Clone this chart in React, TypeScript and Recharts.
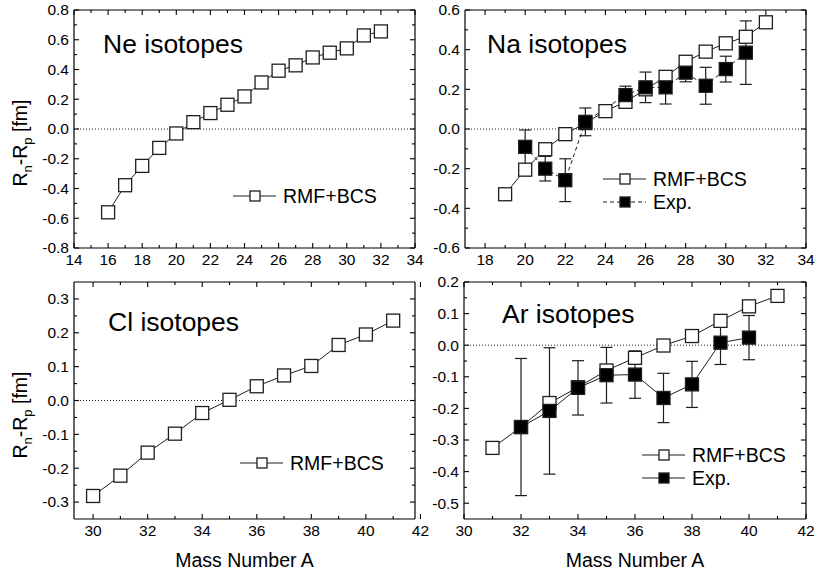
import React from 'react';
import { LineChart, Line, XAxis, YAxis, ErrorBar, ReferenceLine } from 'recharts';

const FONT = '"Liberation Sans", Arial, Helvetica, sans-serif';
const INK = '#1e1e1e';
const FRAME = '#000';

// Ne isotopes
const neMass = [16, 17, 18, 19, 20, 21, 22, 23, 24, 25, 26, 27, 28, 29, 30, 31, 32];
const neRmf = [-0.56, -0.378, -0.248, -0.127, -0.03, 0.046, 0.107, 0.163, 0.219, 0.313, 0.392, 0.428, 0.481, 0.513, 0.542, 0.629, 0.656];

// Na isotopes
const naMass = [19, 20, 21, 22, 23, 24, 25, 26, 27, 28, 29, 30, 31, 32];
const naRmf = [-0.329, -0.205, -0.102, -0.026, 0.03, 0.09, 0.137, 0.2, 0.263, 0.339, 0.39, 0.432, 0.465, 0.538];
const naExpMass = [20, 21, 22, 23, 25, 26, 27, 28, 29, 30, 31];
const naExp = [-0.09, -0.2, -0.258, 0.036, 0.171, 0.21, 0.21, 0.284, 0.218, 0.302, 0.385];
const naExpErr = [0.085, 0.062, 0.108, 0.07, 0.045, 0.077, 0.084, 0.046, 0.093, 0.065, 0.16];

// Cl isotopes
const clMass = [30, 31, 32, 33, 34, 35, 36, 37, 38, 39, 40, 41];
const clRmf = [-0.282, -0.222, -0.154, -0.098, -0.037, 0.002, 0.042, 0.074, 0.102, 0.164, 0.195, 0.236];

// Ar isotopes
const arMass = [31, 32, 33, 34, 35, 36, 37, 38, 39, 40, 41];
const arRmf = [-0.325, -0.259, -0.183, -0.133, -0.08, -0.04, -0.001, 0.029, 0.077, 0.123, 0.156];
const arExpMass = [32, 33, 34, 35, 36, 37, 38, 39, 40];
const arExp = [-0.259, -0.208, -0.135, -0.095, -0.093, -0.167, -0.124, 0.008, 0.024];
const arExpErr = [0.217, 0.2, 0.086, 0.088, 0.075, 0.078, 0.073, 0.069, 0.07];

// labelled (major) ticks per panel
const neXMajor = [14, 16, 18, 20, 22, 24, 26, 28, 30, 32, 34];
const neYMajor = [-0.8, -0.6, -0.4, -0.2, 0, 0.2, 0.4, 0.6, 0.8];
const naXMajor = [18, 20, 22, 24, 26, 28, 30, 32, 34];
const naYMajor = [-0.6, -0.4, -0.2, 0, 0.2, 0.4, 0.6];
const clXMajor = [30, 32, 34, 36, 38, 40, 42];
const clYMajor = [-0.3, -0.2, -0.1, 0, 0.1, 0.2, 0.3];
const arXMajor = [30, 32, 34, 36, 38, 40, 42];
const arYMajor = [-0.5, -0.4, -0.3, -0.2, -0.1, 0, 0.1, 0.2];

type Row = { a: number; v: number; e: number };
const rows = (mass: number[], v: number[], e?: number[]): Row[] =>
  mass.map((a, i) => ({ a, v: v[i], e: e ? e[i] : 0 }));

// majors plus an unlabelled tick halfway between each pair
const withMinor = (major: number[]) => {
  const out: number[] = [];
  major.forEach((m, i) => {
    out.push(m);
    if (i < major.length - 1) out.push(+((m + major[i + 1]) / 2).toFixed(4));
  });
  return out;
};

type Side = 'bottom' | 'top' | 'left' | 'right';

const makeTick = (side: Side, major: number[], digits: number) => (props: any) => {
  const { x, y, payload, index } = props;
  const v = payload.value as number;
  const isMajor = major.some((m) => Math.abs(m - v) < 1e-6);
  const len = isMajor ? 5 : 3;
  let line: React.ReactNode = null;
  if (side === 'bottom') line = <line x1={x} y1={y} x2={x} y2={y - len} />;
  if (side === 'top') line = <line x1={x} y1={y} x2={x} y2={y + len} />;
  if (side === 'left') line = <line x1={x} y1={y} x2={x + len} y2={y} />;
  if (side === 'right') line = <line x1={x} y1={y} x2={x - len} y2={y} />;
  let label: React.ReactNode = null;
  if (isMajor && side === 'bottom') {
    label = (
      <text x={x} y={y + 17} textAnchor="middle" fontSize={15.5} fontFamily={FONT} fill="#000" stroke="none">
        {v.toFixed(digits)}
      </text>
    );
  }
  if (isMajor && side === 'left') {
    label = (
      <text x={x - 5} y={y + 5.4} textAnchor="end" fontSize={15.5} fontFamily={FONT} fill="#000" stroke="none">
        {v.toFixed(digits)}
      </text>
    );
  }
  return (
    <g key={`${side}-${index}`} stroke={FRAME} strokeWidth={1.1}>
      {line}
      {label}
    </g>
  );
};

const openSquare = (size: number) => (p: any) => {
  if (p.cx == null || p.cy == null) return <g key={p.index} />;
  return (
    <rect key={p.index} x={p.cx - size / 2} y={p.cy - size / 2} width={size} height={size}
      fill="#fff" stroke={INK} strokeWidth={1.3} />
  );
};

const filledSquare = (size: number) => (p: any) => {
  if (p.cx == null || p.cy == null) return <g key={p.index} />;
  return (
    <rect key={p.index} x={p.cx - size / 2} y={p.cy - size / 2} width={size} height={size}
      fill="#000" stroke={INK} strokeWidth={1.3} />
  );
};

type PanelProps = {
  left: number;
  top: number;
  width: number;
  height: number;
  // outer edges of the plot frame, in chart coordinates
  frame: { top: number; right: number; bottom: number; left: number };
  xDomain: [number, number];
  yDomain: [number, number];
  xMajor: number[];
  yMajor: number[];
  children: React.ReactNode;
};

function Panel({ left, top, width, height, frame, xDomain, yDomain, xMajor, yMajor, children }: PanelProps) {
  const xTicks = withMinor(xMajor);
  const yTicks = withMinor(yMajor);
  const axisLine = { stroke: FRAME, strokeWidth: 1.2 };
  // each axis takes a 1px band, so the margins sit one pixel outside the frame
  const margin = {
    top: frame.top - 1,
    left: frame.left - 1,
    right: width - frame.right - 1,
    bottom: height - frame.bottom - 1,
  };
  return (
    <div style={{ position: 'absolute', left, top }}>
      <LineChart width={width} height={height} margin={margin}>
        <XAxis xAxisId={0} type="number" dataKey="a" domain={xDomain} ticks={xTicks} allowDataOverflow
          interval={0} tickSize={0} tickMargin={0} height={1} axisLine={axisLine} tickLine={false}
          tick={makeTick('bottom', xMajor, 0)} />
        <XAxis xAxisId="top" orientation="top" type="number" dataKey="a" domain={xDomain} ticks={xTicks}
          allowDataOverflow interval={0} tickSize={0} tickMargin={0} height={1} axisLine={axisLine}
          tickLine={false} tick={makeTick('top', xMajor, 0)} />
        <YAxis yAxisId={0} type="number" domain={yDomain} ticks={yTicks} allowDataOverflow interval={0}
          tickSize={0} tickMargin={0} width={1} axisLine={axisLine} tickLine={false}
          tick={makeTick('left', yMajor, 1)} />
        <YAxis yAxisId="right" orientation="right" type="number" domain={yDomain} ticks={yTicks}
          allowDataOverflow interval={0} tickSize={0} tickMargin={0} width={1} axisLine={axisLine}
          tickLine={false} tick={makeTick('right', yMajor, 1)} />
        <ReferenceLine y={0} stroke={INK} strokeWidth={1} strokeDasharray="1 2" />
        {children}
      </LineChart>
    </div>
  );
}

const textStyle = { fontFamily: FONT, fill: '#000' };

function LegendRow({ x, y, filled, dashed, label }: { x: number; y: number; filled: boolean; dashed: boolean; label: string }) {
  return (
    <g>
      <line x1={x} y1={y} x2={x + 43} y2={y} stroke={INK} strokeWidth={1.2} strokeDasharray={dashed ? '4 3' : undefined} />
      <rect x={x + 17} y={y - 5} width={10} height={10} fill={filled ? '#000' : '#fff'} stroke={INK} strokeWidth={1.3} />
      <text x={x + 50} y={y + 6.8} fontSize={19.5} style={textStyle}>{label}</text>
    </g>
  );
}

function YLabel({ cx, cy }: { cx: number; cy: number }) {
  return (
    <text transform={`translate(${cx},${cy}) rotate(-90)`} textAnchor="middle" fontSize={19.5} style={textStyle}>
      R<tspan dy={5} fontSize={13}>n</tspan>
      <tspan dy={-5}>-R</tspan>
      <tspan dy={5} fontSize={13}>p</tspan>
      <tspan dy={-5}> [fm]</tspan>
    </text>
  );
}

export default function App() {
  const neRows = rows(neMass, neRmf);
  const naRows = rows(naMass, naRmf);
  const naExpRows = rows(naExpMass, naExp, naExpErr);
  const clRows = rows(clMass, clRmf);
  const arRows = rows(arMass, arRmf);
  const arExpRows = rows(arExpMass, arExp, arExpErr);

  return (
    <div style={{ position: 'absolute', left: 0, top: 0, width: 815, height: 578, background: '#fff', overflow: 'hidden' }}>
      <Panel left={0} top={0} width={440} height={275} frame={{ top: 10, right: 415, bottom: 248, left: 74 }}
        xDomain={[14, 34]} yDomain={[-0.8, 0.8]} xMajor={neXMajor} yMajor={neYMajor}>
        <Line data={neRows} dataKey="v" type="linear" stroke={INK} strokeWidth={1} dot={openSquare(13)}
          activeDot={false} isAnimationActive={false} />
      </Panel>

      <Panel left={420} top={0} width={395} height={275} frame={{ top: 10, right: 386, bottom: 248, left: 45 }}
        xDomain={[17, 34]} yDomain={[-0.6, 0.6]} xMajor={naXMajor} yMajor={naYMajor}>
        <Line data={naRows} dataKey="v" type="linear" stroke={INK} strokeWidth={1} dot={openSquare(13)}
          activeDot={false} isAnimationActive={false} />
        <Line data={naExpRows} dataKey="v" type="linear" stroke={INK} strokeWidth={1} strokeDasharray="4 3"
          dot={filledSquare(13)} activeDot={false} isAnimationActive={false}>
          <ErrorBar dataKey="e" direction="y" width={6} stroke={INK} strokeWidth={1.2} />
        </Line>
      </Panel>

      <Panel left={0} top={272} width={440} height={306} frame={{ top: 10, right: 415, bottom: 247, left: 74 }}
        xDomain={[29.3, 41.8]} yDomain={[-0.35, 0.35]} xMajor={clXMajor} yMajor={clYMajor}>
        <Line data={clRows} dataKey="v" type="linear" stroke={INK} strokeWidth={1} dot={openSquare(13)}
          activeDot={false} isAnimationActive={false} />
      </Panel>

      <Panel left={420} top={272} width={395} height={306} frame={{ top: 10, right: 386, bottom: 247, left: 44 }}
        xDomain={[30, 42]} yDomain={[-0.55, 0.2]} xMajor={arXMajor} yMajor={arYMajor}>
        <Line data={arRows} dataKey="v" type="linear" stroke={INK} strokeWidth={1} dot={openSquare(13)}
          activeDot={false} isAnimationActive={false} />
        <Line data={arExpRows} dataKey="v" type="linear" stroke={INK} strokeWidth={1} dot={filledSquare(13)}
          activeDot={false} isAnimationActive={false}>
          <ErrorBar dataKey="e" direction="y" width={6} stroke={INK} strokeWidth={1.2} />
        </Line>
      </Panel>

      <svg width={815} height={578} style={{ position: 'absolute', left: 0, top: 0, pointerEvents: 'none' }}>
        <text x={103} y={53} fontSize={26.5} style={textStyle}>Ne isotopes</text>
        <text x={487} y={53} fontSize={26.5} style={textStyle}>Na isotopes</text>
        <text x={108} y={331} fontSize={26.5} style={textStyle}>Cl isotopes</text>
        <text x={502} y={323} fontSize={26.5} style={textStyle}>Ar isotopes</text>

        <LegendRow x={233} y={196} filled={false} dashed={false} label="RMF+BCS" />
        <LegendRow x={603} y={179} filled={false} dashed={false} label="RMF+BCS" />
        <LegendRow x={603} y={202} filled dashed label="Exp." />
        <LegendRow x={240} y={463} filled={false} dashed={false} label="RMF+BCS" />
        <LegendRow x={642} y={455} filled={false} dashed={false} label="RMF+BCS" />
        <LegendRow x={642} y={478} filled dashed={false} label="Exp." />

        <YLabel cx={27} cy={143} />
        <YLabel cx={27} cy={415} />

        <text x={244.5} y={567} textAnchor="middle" fontSize={19.5} style={textStyle}>Mass Number A</text>
        <text x={635} y={567} textAnchor="middle" fontSize={19.5} style={textStyle}>Mass Number A</text>
      </svg>
    </div>
  );
}
